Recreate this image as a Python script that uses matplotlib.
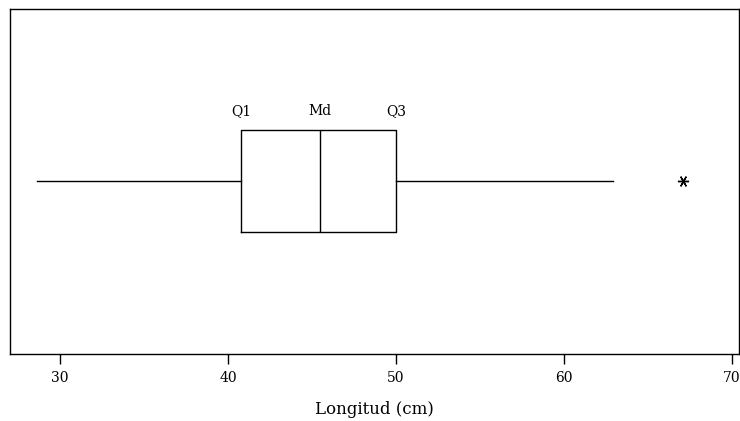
import matplotlib
matplotlib.use("Agg")
from matplotlib import pyplot as plt

# summary values
stat_names = ["whislo", "q1", "med", "q3", "whishi"]
stat_values = [28.6, 40.8, 45.5, 50.0, 62.9]
outliers = [67.1]
quartile_labels = ["Q1", "Md", "Q3"]
xticks = [30, 40, 50, 60, 70]

plt.rcParams['font.family'] = ['DejaVu Serif']

fig = plt.figure(figsize=(7.4, 4.21), dpi=100)
ax = fig.add_axes([0.0135, 0.159, 0.985, 0.8207])

stats = dict(zip(stat_names, stat_values))
stats["fliers"] = outliers
ax.bxp([stats], positions=[0.5], widths=0.295, vert=False, showcaps=False,
       boxprops=dict(color="black", lw=1),
       whiskerprops=dict(color="black", lw=1),
       medianprops=dict(color="black", lw=1),
       flierprops=dict(marker=(6, 2, 90), markersize=8, markeredgecolor="black",
                       markeredgewidth=1, markerfacecolor="black"))

for name, value in zip(quartile_labels, stat_values[1:4]):
    ax.text(value, 0.5 + 0.295 / 2 + 0.035, name, ha="center", va="bottom", fontsize=10)

ax.set_xlim(27.02, 70.42)
ax.set_ylim(0, 1)
ax.set_xticks(xticks)
ax.set_yticks([])
ax.tick_params(axis="x", direction="out", length=7, width=1, labelsize=10, pad=5)
ax.set_xlabel("Longitud (cm)", fontsize=12, labelpad=12)
for s in ax.spines.values():
    s.set_linewidth(1)

fig.savefig("out.png", dpi=100)
